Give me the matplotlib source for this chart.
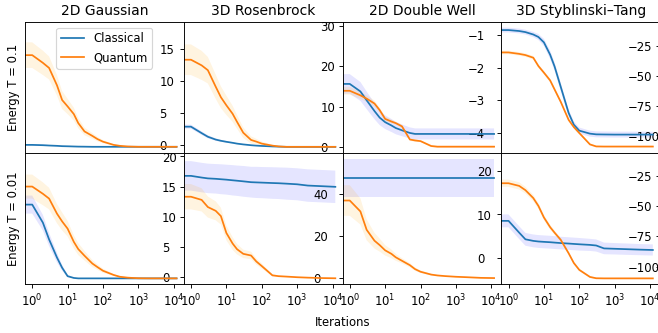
import numpy as np
import matplotlib
matplotlib.use("Agg")
import matplotlib.pyplot as plt

# iterations (0 = start value, drawn to the left edge on the log axis)
iters = [0, 1, 2, 3, 5, 7, 10, 15, 20, 30, 50, 70, 100, 200, 300, 500, 1000, 2000, 5000, 12000]

titles = ["2D Gaussian", "3D Rosenbrock", "2D Double Well", "3D Styblinski\u2013Tang"]
row_labels = ["Energy T = 0.1", "Energy T = 0.01"]

# ---- T = 0.1 ----
g1_c = [0.0, 0.0, -0.05, -0.1, -0.15, -0.2, -0.22, -0.25, -0.27, -0.28, -0.3, -0.3, -0.3, -0.3, -0.3, -0.3, -0.3, -0.3, -0.3, -0.3]
g1_c_sd = [0.1, 0.1, 0.1, 0.08, 0.06, 0.05, 0.04, 0.03, 0.02, 0.02, 0.01, 0.01, 0.01, 0.01, 0.01, 0.01, 0.01, 0.01, 0.01, 0.01]
g1_q = [14.0, 14.0, 12.8, 12.0, 9.3, 7.0, 6.0, 4.8, 3.4, 2.1, 1.4, 0.9, 0.5, 0.0, -0.15, -0.25, -0.3, -0.3, -0.3, -0.3]
g1_q_sd = [2.0, 2.0, 1.9, 1.8, 1.6, 1.4, 1.2, 1.0, 0.8, 0.6, 0.45, 0.35, 0.25, 0.1, 0.05, 0.02, 0.01, 0.0, 0.0, 0.0]

r1_c = [5.0, 5.0, 3.4, 2.5, 1.8, 1.5, 1.25, 1.0, 0.8, 0.6, 0.4, 0.3, 0.22, 0.1, 0.05, 0.0, 0.0, 0.0, 0.0, 0.0]
r1_c_sd = [0.5, 0.5, 0.45, 0.4, 0.3, 0.25, 0.2, 0.15, 0.12, 0.1, 0.08, 0.06, 0.05, 0.03, 0.02, 0.01, 0.0, 0.0, 0.0, 0.0]
r1_q = [21.6, 21.6, 20.2, 19.0, 14.9, 12.3, 10.3, 8.2, 6.2, 3.5, 1.7, 1.3, 0.8, 0.3, 0.1, 0.0, 0.0, 0.0, 0.0, 0.0]
r1_q_sd = [3.8, 3.8, 3.6, 3.3, 3.0, 2.7, 2.4, 2.0, 1.7, 1.3, 0.9, 0.7, 0.5, 0.2, 0.1, 0.05, 0.0, 0.0, 0.0, 0.0]

d1_c = [-2.5, -2.5, -2.73, -3.0, -3.33, -3.53, -3.67, -3.77, -3.85, -3.92, -4.0, -4.03, -4.03, -4.03, -4.03, -4.03, -4.03, -4.03, -4.03, -4.03]
d1_c_sd = [0.3, 0.3, 0.29, 0.27, 0.25, 0.23, 0.21, 0.2, 0.19, 0.18, 0.17, 0.17, 0.17, 0.17, 0.17, 0.17, 0.17, 0.17, 0.17, 0.17]
d1_q = [-2.71, -2.71, -2.85, -2.95, -3.1, -3.3, -3.57, -3.65, -3.7, -3.8, -4.2, -4.23, -4.25, -4.4, -4.42, -4.42, -4.42, -4.42, -4.42, -4.42]
d1_q_sd = [0.12, 0.12, 0.11, 0.1, 0.09, 0.08, 0.07, 0.06, 0.05, 0.05, 0.04, 0.04, 0.03, 0.03, 0.03, 0.03, 0.03, 0.03, 0.03, 0.03]

s1_c = [-11.9, -11.9, -12.7, -13.6, -15.6, -17.7, -22.2, -32.5, -42.3, -59.5, -81.2, -91.0, -96.0, -98.5, -99.1, -99.2, -99.3, -99.3, -99.3, -99.3]
s1_c_sd = [2.0, 2.0, 2.0, 2.0, 2.2, 2.5, 3.0, 3.5, 3.5, 3.5, 3.0, 2.8, 2.6, 2.5, 2.5, 2.5, 2.5, 2.5, 2.5, 2.5]
s1_q = [-30.6, -30.6, -31.8, -32.8, -35.0, -42.0, -47.5, -54.0, -61.5, -72.0, -87.0, -93.0, -98.0, -107.5, -109.2, -109.3, -109.3, -109.3, -109.3, -109.3]
s1_q_sd = [1.5, 1.5, 1.5, 1.5, 1.5, 1.5, 1.5, 1.5, 1.5, 1.5, 1.3, 1.2, 1.0, 0.8, 0.6, 0.5, 0.5, 0.5, 0.5, 0.5]

# ---- T = 0.01 ----
g2_c = [12.0, 12.0, 9.0, 6.2, 3.2, 1.5, 0.1, -0.2, -0.27, -0.27, -0.27, -0.27, -0.27, -0.27, -0.27, -0.27, -0.27, -0.27, -0.27, -0.27]
g2_c_sd = [1.5, 1.5, 1.3, 1.1, 0.8, 0.5, 0.2, 0.05, 0.02, 0.01, 0.01, 0.01, 0.01, 0.01, 0.01, 0.01, 0.01, 0.01, 0.01, 0.01]
g2_q = [15.0, 15.0, 13.8, 13.0, 10.5, 9.2, 8.0, 5.8, 4.6, 3.5, 2.2, 1.6, 1.0, 0.3, 0.0, -0.15, -0.25, -0.27, -0.27, -0.27]
g2_q_sd = [2.0, 2.0, 1.9, 1.8, 1.6, 1.5, 1.3, 1.1, 1.0, 0.8, 0.6, 0.45, 0.35, 0.15, 0.08, 0.04, 0.02, 0.0, 0.0, 0.0]

r2_c = [48.6, 48.6, 47.8, 47.4, 47.2, 47.0, 46.8, 46.5, 46.3, 46.0, 45.6, 45.5, 45.4, 45.2, 45.1, 44.9, 44.6, 44.0, 43.7, 43.4]
r2_c_sd = [7.0, 7.0, 7.0, 7.0, 7.0, 7.1, 7.1, 7.2, 7.2, 7.3, 7.3, 7.4, 7.4, 7.5, 7.5, 7.6, 7.6, 7.7, 7.7, 7.7]
r2_q = [38.7, 38.7, 37.2, 33.8, 32.0, 29.5, 21.5, 16.5, 13.8, 11.6, 10.8, 8.0, 5.8, 1.4, 1.0, 0.8, 0.5, 0.3, 0.1, 0.0]
r2_q_sd = [6.0, 6.0, 5.5, 5.0, 4.5, 4.0, 3.5, 3.0, 2.5, 2.0, 1.8, 1.5, 1.2, 0.5, 0.3, 0.2, 0.1, 0.05, 0.0, 0.0]

d2_c = [18.3, 18.3, 18.3, 18.3, 18.3, 18.3, 18.3, 18.3, 18.3, 18.3, 18.3, 18.3, 18.3, 18.3, 18.3, 18.3, 18.3, 18.3, 18.3, 18.3]
d2_c_sd = [4.35, 4.35, 4.35, 4.35, 4.35, 4.35, 4.35, 4.35, 4.35, 4.35, 4.35, 4.35, 4.35, 4.35, 4.35, 4.35, 4.35, 4.35, 4.35, 4.35]
d2_q = [13.2, 13.2, 10.7, 6.5, 4.0, 3.0, 1.8, 1.0, 0.2, -0.6, -1.6, -2.5, -3.1, -3.75, -3.95, -4.1, -4.25, -4.35, -4.5, -4.55]
d2_q_sd = [3.5, 3.5, 3.0, 2.4, 1.8, 1.5, 1.2, 1.0, 0.8, 0.6, 0.5, 0.4, 0.3, 0.2, 0.15, 0.1, 0.08, 0.05, 0.05, 0.05]

s2_c = [-62.3, -62.3, -72.0, -77.5, -78.8, -79.3, -79.6, -79.9, -80.2, -80.6, -81.0, -81.3, -81.6, -82.1, -82.6, -85.0, -85.3, -85.6, -86.0, -86.3]
s2_c_sd = [5.3, 5.3, 5.3, 5.3, 5.3, 5.3, 5.3, 5.3, 5.3, 5.2, 5.2, 5.2, 5.2, 5.0, 5.0, 4.8, 4.7, 4.7, 4.6, 4.6]
s2_q = [-31.3, -31.3, -33.5, -37.0, -43.5, -50.0, -59.5, -67.5, -72.0, -78.0, -89.0, -97.0, -102.7, -108.5, -109.6, -109.7, -109.7, -109.7, -109.7, -109.7]
s2_q_sd = [3.0, 3.0, 3.0, 2.8, 2.6, 2.4, 2.2, 2.0, 1.8, 1.6, 1.4, 1.2, 1.0, 0.8, 0.6, 0.5, 0.5, 0.5, 0.5, 0.5]

panels = [
    [(g1_c, g1_c_sd, g1_q, g1_q_sd), (r1_c, r1_c_sd, r1_q, r1_q_sd),
     (d1_c, d1_c_sd, d1_q, d1_q_sd), (s1_c, s1_c_sd, s1_q, s1_q_sd)],
    [(g2_c, g2_c_sd, g2_q, g2_q_sd), (r2_c, r2_c_sd, r2_q, r2_q_sd),
     (d2_c, d2_c_sd, d2_q, d2_q_sd), (s2_c, s2_c_sd, s2_q, s2_q_sd)],
]

y_ticks = [
    [[0, 5, 10, 15], [0, 10, 20, 30], [-4, -3, -2, -1], [-100, -75, -50, -25]],
    [[0, 5, 10, 15, 20], [0, 20, 40], [0, 10, 20], [-100, -75, -50, -25]],
]
y_lims = [
    [(-1.25, 19.2), (-1.5, 31), (-4.61, -0.6), (-114.6, -5)],
    [(-1.2, 20.6), (-2.7, 59.5), (-5.9, 24.1), (-114.3, -6.3)],
]
# tick labels sit inside the panel, left of the right spine
y_pads = [[21, 19, 29, 28], [19, 25, 21, 27.5]]


def draw_panel(ax, c, c_sd, q, q_sd):
    c, c_sd, q, q_sd = map(np.array, (c, c_sd, q, q_sd))
    ax.fill_between(iters, c - c_sd, c + c_sd, color='blue', alpha=0.1, lw=0)
    ax.plot(iters, c, color='tab:blue', label='Classical')
    ax.fill_between(iters, q - q_sd, q + q_sd, color='orange', alpha=0.12, lw=0)
    ax.plot(iters, q, color='tab:orange', label='Quantum')


fig, axes = plt.subplots(2, 4, figsize=(7.9, 4.0), dpi=83.3, sharex=True)
plt.subplots_adjust(left=25 / 658, right=660 / 658, top=1 - 22 / 333,
                    bottom=1 - 284 / 333, wspace=0, hspace=0)

for r in range(2):
    for k in range(4):
        ax = axes[r][k]
        ax.set_xscale('log')
        draw_panel(ax, *panels[r][k])
        ax.yaxis.tick_right()
        ax.set_yticks(y_ticks[r][k])
        ax.set_ylim(*y_lims[r][k])
        ax.tick_params(axis='y', direction='in', pad=-y_pads[r][k])
        ax.tick_params(axis='x', which='minor', bottom=False)
        if r == 0:
            ax.set_title(titles[k])
            ax.tick_params(axis='x', which='both', bottom=False, labelbottom=False)
        if k == 0:
            ax.yaxis.set_label_position('left')
            ax.set_ylabel(row_labels[r])

axes[1][0].set_xticks([1, 10, 100, 1000, 10000])
axes[1][0].set_xlim(10 ** -0.204, 10 ** 4.283)
axes[0][0].legend(loc='upper center')

fig.text((25 + 660) / 2 / 658, 1 - 322 / 333, "Iterations", ha='center', va='center')

plt.savefig("out.png", dpi=83.3)
